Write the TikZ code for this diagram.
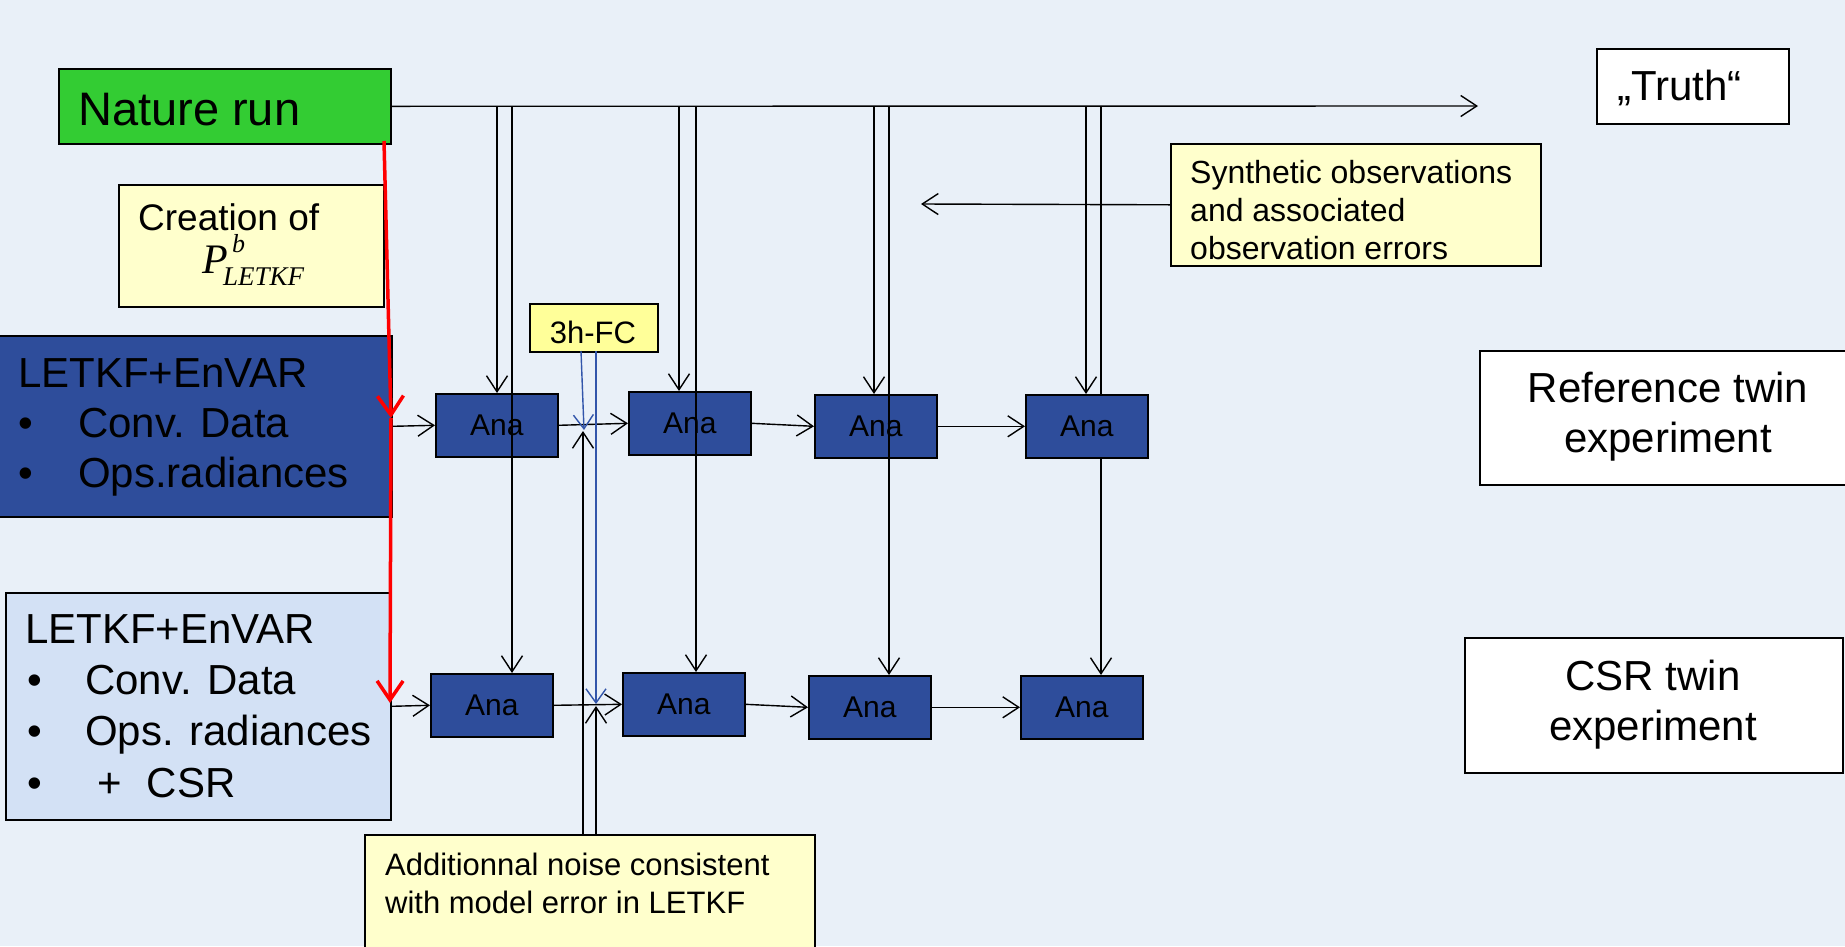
\documentclass[tikz,border=0pt]{standalone}
\usepackage{fontspec}
\setmainfont{Liberation Sans}
\newfontfamily\timesf{Liberation Serif}
\usetikzlibrary{arrows.meta}
\definecolor{bgc}{RGB}{233,240,248}
\definecolor{natgreen}{RGB}{51,204,51}
\definecolor{darkb}{RGB}{46,77,155}
\definecolor{lightb}{RGB}{211,225,245}
\definecolor{ltyel}{RGB}{255,255,204}
\definecolor{fcyel}{RGB}{255,255,153}
\definecolor{blueline}{RGB}{50,85,170}
\newcommand\fsz[1]{\fontsize{#1}{#1}\selectfont}
\begin{document}
\begin{tikzpicture}[x=1pt,y=-1pt,
  box/.style={draw=black, line width=1.6pt, inner sep=0pt, anchor=north west, shape=rectangle},
  ana/.style={box, fill=darkb, minimum width=122pt, minimum height=63pt, font=\fsz{30}},
  txt/.style={inner sep=0pt, anchor=base west},
  ctxt/.style={inner sep=0pt, anchor=base},
  conn/.style={draw=black, line width=1.4pt, -{Straight Barb[length=16pt,width=21pt,line width=1.4pt]}},
  plain/.style={draw=black, line width=1.4pt},
  redarr/.style={draw=red, line width=3.5pt, -{Straight Barb[length=19pt,width=26pt,line width=3.5pt]}},
  bluearr/.style={draw=blueline, line width=1.4pt, -{Straight Barb[length=14pt,width=20pt,line width=1.4pt]}},
]
\useasboundingbox (0,0) rectangle (1845,946);
\clip (0,0) rectangle (1845,946);
\fill[bgc] (0,0) rectangle (1845,946);

% boxes
\node[box, fill=natgreen, minimum width=332pt, minimum height=75pt] (nature) at (58,68) {};
\node[txt, font=\fsz{47}] (naturet) at (78,125) {Nature run};

\node[box, fill=white, minimum width=192pt, minimum height=75pt] (truth) at (1596,48) {};
\node[txt, font=\fsz{42}] (trutht) at (1617,100) {„Truth“};

\node[box, fill=ltyel, minimum width=370pt, minimum height=122pt] (synth) at (1170,143) {};
\node[txt, font=\fsz{32}] (synt1) at (1190,183) {Synthetic observations};
\node[txt, font=\fsz{32}] (synt2) at (1190,221) {and associated};
\node[txt, font=\fsz{32}] (synt3) at (1190,259) {observation errors};

\node[box, fill=ltyel, minimum width=265pt, minimum height=122pt] (creat) at (118,184) {};
\node[txt, font=\fsz{37}] (creatt) at (138,230) {Creation of};
\node[txt, font=\timesf\itshape\fsz{42}] (pmat) at (202,273)
  {P\hspace{-4.7pt}\makebox[0pt][l]{\hspace{9pt}\raisebox{21pt}{\fsz{26}b}}\raisebox{-12pt}{\fsz{27}LETKF}};

\node[box, fill=darkb, minimum width=396pt, minimum height=181pt] (letkf1) at (-5,335) {};
\node[txt, font=\fsz{42}] (l1t) at (18,387) {LETKF+EnVAR};
\node[txt, font=\fsz{42}] (l1b1) at (18,437) {•};
\node[txt, font=\fsz{42}] (l1i1) at (78,437) {Conv. Data};
\node[txt, font=\fsz{42}] (l1b2) at (18,487) {•};
\node[txt, font=\fsz{42}] (l1i2) at (78,487) {Ops.radiances};

\node[box, fill=lightb, minimum width=385pt, minimum height=227pt] (letkf2) at (5,592) {};
\node[txt, font=\fsz{42}] (l2t) at (25,643) {LETKF+EnVAR};
\node[txt, font=\fsz{42}] (l2b1) at (27,694) {•};
\node[txt, font=\fsz{42}] (l2i1) at (85,694) {Conv. Data};
\node[txt, font=\fsz{42}] (l2b2) at (27,745) {•};
\node[txt, font=\fsz{42}] (l2i2) at (85,745) {Ops. radiances};
\node[txt, font=\fsz{42}] (l2b3) at (27,797) {•};
\node[txt, font=\fsz{42}] (l2i3) at (97,797) {+\hspace{25pt}CSR};

\node[box, fill=fcyel, minimum width=128pt, minimum height=48pt] (fc) at (529,303) {};
\node[ctxt, font=\fsz{31}] (fct) at (593,343) {3h-FC};

\node[box, fill=ltyel, minimum width=450pt, minimum height=140pt] (noise) at (364,834) {};
\node[txt, font=\fsz{31}] (noise1) at (385,875) {Additionnal noise consistent};
\node[txt, font=\fsz{31}] (noise2) at (385,913) {with model error in LETKF};

\node[box, fill=white, minimum width=380pt, minimum height=134pt] (reft) at (1479,350) {};
\node[ctxt, font=\fsz{42}] (reft1) at (1668,402) {Reference twin};
\node[ctxt, font=\fsz{42}] (reft2) at (1668,452) {experiment};

\node[box, fill=white, minimum width=378pt, minimum height=135pt] (csr) at (1464,637) {};
\node[ctxt, font=\fsz{42}] (csr1) at (1653,690) {CSR twin};
\node[ctxt, font=\fsz{42}] (csr2) at (1653,740) {experiment};

% Ana boxes
\node[ana] (a1) at (435,393) {Ana};
\node[ana] (a2) at (628,391) {Ana};
\node[ana] (a3) at (814,394) {Ana};
\node[ana] (a4) at (1025,394) {Ana};
\node[ana] (b1) at (430,673) {Ana};
\node[ana] (b2) at (622,672) {Ana};
\node[ana] (b3) at (808,675) {Ana};
\node[ana] (b4) at (1020,675) {Ana};

% coordinates
\coordinate (truthend) at (1478,106);
\coordinate (synend) at (921,204);
\coordinate (p1l) at (497,106);
\coordinate (p1r) at (512,106);
\coordinate (p2l) at (679,106);
\coordinate (p2r) at (696,106);
\coordinate (p3l) at (874,106);
\coordinate (p3r) at (889,106);
\coordinate (p4l) at (1086,106);
\coordinate (p4r) at (1101,106);
\coordinate (redstart) at (384,141);
\coordinate (redmid) at (391,418);
\coordinate (redend) at (390,703);
\coordinate (fcl) at (581,351);
\coordinate (fcr) at (596,351);
\coordinate (topx) at (584,430);
\coordinate (botx) at (596,704);
\coordinate (nl) at (583,834);
\coordinate (nr) at (596,834);
\coordinate (topxb) at (583,431);
\coordinate (botxb) at (596,706);

% main line and synthetic obs
\draw[conn] (nature.east) -- (truthend);
\draw[conn] (synth.west) -- (synend);

% verticals
\draw[conn] (p1l) -- (p1l |- a1.north);
\draw[conn] (p2l) -- (p2l |- a2.north);
\draw[conn] (p3l) -- (p3l |- a3.north);
\draw[conn] (p4l) -- (p4l |- a4.north);
\draw[conn] (p1r) -- (p1r |- b1.north);
\draw[conn] (p2r) -- (p2r |- b2.north);
\draw[conn] (p3r) -- (p3r |- b3.north);
\draw[plain] (p4r) -- (p4r |- a4.north);
\draw[conn] (p4r |- a4.south) -- (p4r |- b4.north);

% chains
\draw[conn] (letkf1.east) -- (a1.west);
\draw[conn] (a1.east) -- (a2.west);
\draw[conn] (a2.east) -- (a3.west);
\draw[conn] (a3.east) -- (a4.west);
\draw[conn] (letkf2.east) -- (b1.west);
\draw[conn] (b1.east) -- (b2.west);
\draw[conn] (b2.east) -- (b3.west);
\draw[conn] (b3.east) -- (b4.west);

% noise / 3h-FC
\draw[conn] (nl) -- (topxb);
\draw[conn] (nr) -- (botxb);
\draw[bluearr] (fcl) -- (topx);
\draw[bluearr] (fcr) -- (botx);

% red
\draw[redarr] (redstart) -- (redmid);
\draw[redarr] (redmid) -- (redend);
\end{tikzpicture}
\end{document}
